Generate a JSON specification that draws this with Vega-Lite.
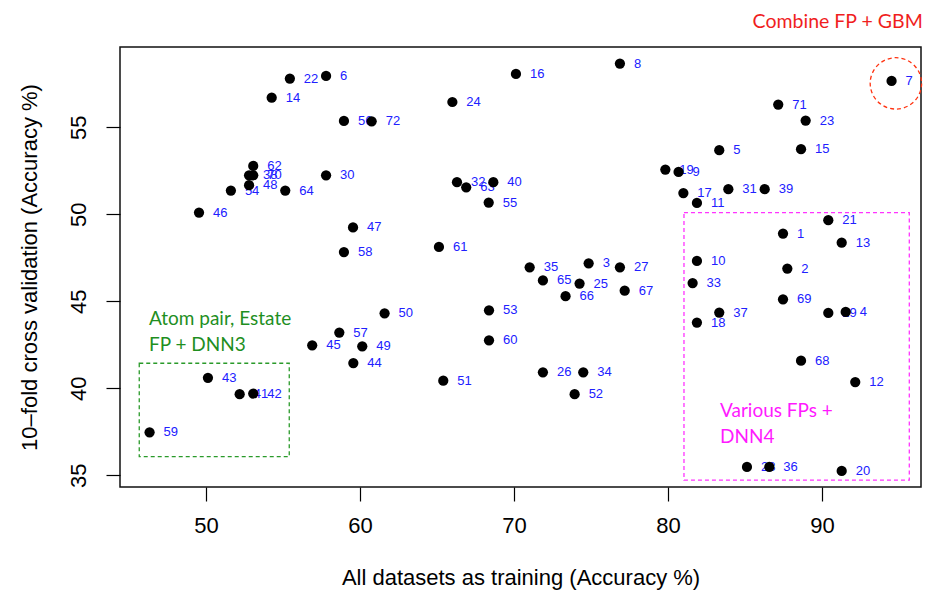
{
  "$schema": "https://vega.github.io/schema/vega-lite/v6.json",
  "width": 801,
  "height": 440,
  "autosize": {"type": "none"},
  "padding": {"left": 120, "top": 47, "right": 7, "bottom": 111},
  "background": "white",
  "config": {
    "view": {"stroke": "#111111", "strokeWidth": 1.5},
    "font": "Liberation Sans"
  },
  "datasets": {
    "pts": [
      {"id": "1", "train": 87.47, "cv": 48.89},
      {"id": "2", "train": 87.75, "cv": 46.88},
      {"id": "3", "train": 74.85, "cv": 47.18},
      {"id": "4", "train": 91.54, "cv": 44.39},
      {"id": "5", "train": 83.33, "cv": 53.68},
      {"id": "6", "train": 57.8, "cv": 57.95},
      {"id": "7", "train": 94.52, "cv": 57.66},
      {"id": "8", "train": 76.88, "cv": 58.66},
      {"id": "9", "train": 80.69, "cv": 52.43},
      {"id": "10", "train": 81.88, "cv": 47.32},
      {"id": "11", "train": 81.88, "cv": 50.65},
      {"id": "12", "train": 92.16, "cv": 40.36},
      {"id": "13", "train": 91.28, "cv": 48.37},
      {"id": "14", "train": 54.27, "cv": 56.7},
      {"id": "15", "train": 88.64, "cv": 53.74},
      {"id": "16", "train": 70.13, "cv": 58.06},
      {"id": "17", "train": 81.0, "cv": 51.22},
      {"id": "18", "train": 81.88, "cv": 43.78},
      {"id": "19", "train": 79.83, "cv": 52.57},
      {"id": "20", "train": 91.28, "cv": 35.25},
      {"id": "21", "train": 90.41, "cv": 49.66},
      {"id": "22", "train": 55.45, "cv": 57.8},
      {"id": "23", "train": 88.94, "cv": 55.38},
      {"id": "24", "train": 66.0, "cv": 56.45},
      {"id": "25", "train": 74.26, "cv": 46.02},
      {"id": "26", "train": 71.88, "cv": 40.92},
      {"id": "27", "train": 76.88, "cv": 46.95},
      {"id": "28", "train": 85.13, "cv": 35.48},
      {"id": "29", "train": 90.41, "cv": 44.33},
      {"id": "30", "train": 57.8, "cv": 52.24},
      {"id": "31", "train": 83.92, "cv": 51.44},
      {"id": "32", "train": 66.3, "cv": 51.84},
      {"id": "33", "train": 81.6, "cv": 46.05},
      {"id": "34", "train": 74.5, "cv": 40.92},
      {"id": "35", "train": 71.02, "cv": 46.95},
      {"id": "36", "train": 86.58, "cv": 35.48},
      {"id": "37", "train": 83.33, "cv": 44.35},
      {"id": "38", "train": 52.8, "cv": 52.24},
      {"id": "39", "train": 86.28, "cv": 51.44},
      {"id": "40", "train": 68.66, "cv": 51.84},
      {"id": "41", "train": 52.19, "cv": 39.66},
      {"id": "42", "train": 53.07, "cv": 39.7},
      {"id": "43", "train": 50.13, "cv": 40.6},
      {"id": "44", "train": 59.57, "cv": 41.45},
      {"id": "45", "train": 56.9, "cv": 42.47},
      {"id": "46", "train": 49.55, "cv": 50.1},
      {"id": "47", "train": 59.55, "cv": 49.24},
      {"id": "48", "train": 52.8, "cv": 51.67},
      {"id": "49", "train": 60.15, "cv": 42.41},
      {"id": "50", "train": 61.6, "cv": 44.31},
      {"id": "51", "train": 65.41, "cv": 40.44},
      {"id": "52", "train": 73.94, "cv": 39.66},
      {"id": "53", "train": 68.38, "cv": 44.48},
      {"id": "54", "train": 51.62, "cv": 51.36},
      {"id": "55", "train": 68.36, "cv": 50.67},
      {"id": "56", "train": 58.96, "cv": 55.36},
      {"id": "57", "train": 58.66, "cv": 43.2},
      {"id": "58", "train": 58.96, "cv": 47.83},
      {"id": "59", "train": 46.34, "cv": 37.47},
      {"id": "60", "train": 68.38, "cv": 42.76},
      {"id": "61", "train": 65.13, "cv": 48.12},
      {"id": "62", "train": 53.07, "cv": 52.78},
      {"id": "63", "train": 66.9, "cv": 51.55},
      {"id": "64", "train": 55.15, "cv": 51.36},
      {"id": "65", "train": 71.88, "cv": 46.2},
      {"id": "66", "train": 73.35, "cv": 45.29},
      {"id": "67", "train": 77.19, "cv": 45.61},
      {"id": "68", "train": 88.64, "cv": 41.59},
      {"id": "69", "train": 87.47, "cv": 45.11},
      {"id": "70", "train": 53.07, "cv": 52.24},
      {"id": "71", "train": 87.16, "cv": 56.3},
      {"id": "72", "train": 60.76, "cv": 55.34}
    ],
    "boxes": [
      {"group": "atom", "x1": 45.67, "x2": 55.41, "y1": 36.07, "y2": 41.44},
      {"group": "various", "x1": 81.04, "x2": 95.67, "y1": 34.73, "y2": 50.09}
    ],
    "notes": [
      {"group": "atom", "text": "Atom pair, Estate", "x": 46.3, "y": 43.97},
      {"group": "atom", "text": "FP + DNN3", "x": 46.3, "y": 42.48},
      {"group": "various", "text": "Various FPs +", "x": 83.38, "y": 38.71},
      {"group": "various", "text": "DNN4", "x": 83.38, "y": 37.22}
    ],
    "gbm": [
      {"text": "Combine FP + GBM", "x": 91.02, "y": 61.05, "cx": 94.8, "cy": 57.52}
    ]
  },
  "layer": [
    {
      "data": {"name": "boxes"},
      "mark": {"type": "rect", "fill": null, "fillOpacity": 0, "strokeWidth": 1.3, "strokeDash": [4, 3]},
      "encoding": {
        "x": {"field": "x1", "type": "quantitative", "scale": {"domain": [44.42, 96.43], "nice": false, "zero": false},
          "axis": {"values": [50, 60, 70, 80, 90], "title": "All datasets as training (Accuracy %)", "grid": false, "domain": false,
            "tickSize": 14, "tickColor": "black", "tickWidth": 1.2, "labelFontSize": 22, "labelColor": "black", "labelPadding": 14,
            "titleFontSize": 22, "titleFontWeight": "normal", "titleColor": "black", "titlePadding": 31, "labelFont": "Liberation Sans", "titleFont": "Liberation Sans"}},
        "x2": {"field": "x2"},
        "y": {"field": "y1", "type": "quantitative", "scale": {"domain": [34.33, 59.61], "nice": false, "zero": false},
          "axis": {"values": [35, 40, 45, 50, 55], "title": "10–fold cross validation (Accuracy %)", "grid": false, "domain": false,
            "tickSize": 14, "tickColor": "black", "tickWidth": 1.2, "labelFontSize": 22, "labelColor": "black", "labelPadding": 16,
            "labelAngle": -90, "labelAlign": "center", "labelBaseline": "bottom",
            "titleFontSize": 22, "titleFontWeight": "normal", "titleColor": "black", "titlePadding": 26, "labelFont": "Liberation Sans", "titleFont": "Liberation Sans"}},
        "y2": {"field": "y2"},
        "stroke": {"field": "group", "type": "nominal", "scale": {"domain": ["atom", "various"], "range": ["#2a9a2a", "#ff33ff"]}, "legend": null}
      }
    },
    {
      "data": {"name": "notes"},
      "mark": {"type": "text", "align": "left", "baseline": "middle", "fontSize": 19, "font": "Lato"},
      "encoding": {
        "x": {"field": "x", "type": "quantitative"},
        "y": {"field": "y", "type": "quantitative"},
        "text": {"field": "text"},
        "color": {"field": "group", "type": "nominal", "scale": {"domain": ["atom", "various"], "range": ["#1f8f1f", "#ff1aff"]}, "legend": null}
      }
    },
    {
      "data": {"name": "pts"},
      "mark": {"type": "text", "align": "left", "baseline": "middle", "dx": 14, "fontSize": 13, "color": "#2020ff", "font": "Liberation Sans"},
      "encoding": {
        "x": {"field": "train", "type": "quantitative"},
        "y": {"field": "cv", "type": "quantitative"},
        "text": {"field": "id"}
      }
    },
    {
      "data": {"name": "pts"},
      "mark": {"type": "point", "shape": "circle", "filled": true, "size": 105, "color": "black", "opacity": 1},
      "encoding": {
        "x": {"field": "train", "type": "quantitative"},
        "y": {"field": "cv", "type": "quantitative"}
      }
    },
    {
      "data": {"name": "gbm"},
      "mark": {"type": "point", "shape": "circle", "filled": false, "size": 2642, "stroke": "#ff3311", "strokeWidth": 1.3, "strokeDash": [4, 3], "opacity": 1},
      "encoding": {
        "x": {"field": "cx", "type": "quantitative"},
        "y": {"field": "cy", "type": "quantitative"}
      }
    },
    {
      "data": {"name": "gbm"},
      "mark": {"type": "text", "align": "center", "baseline": "middle", "fontSize": 19.5, "font": "Lato", "color": "#f01e1e"},
      "encoding": {
        "x": {"field": "x", "type": "quantitative"},
        "y": {"field": "y", "type": "quantitative"},
        "text": {"field": "text"}
      }
    }
  ]
}
